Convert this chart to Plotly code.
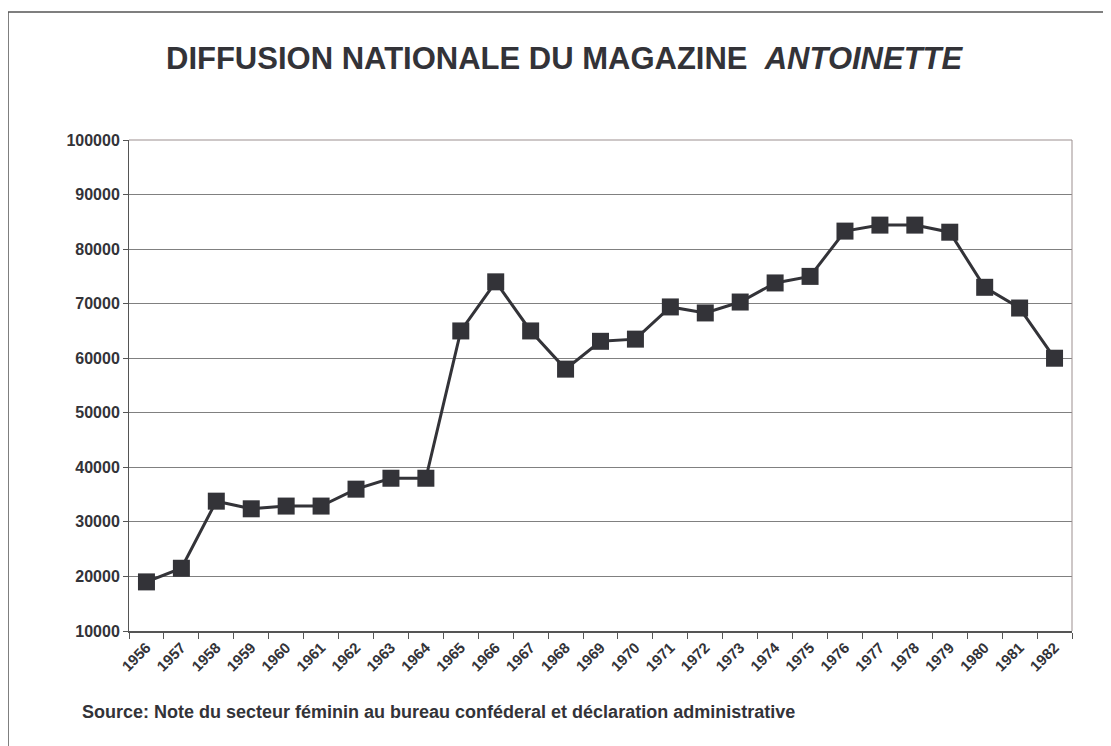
import plotly.graph_objects as go

years = [str(y) for y in range(1956, 1983)]
diffusion = [19000, 21500, 33800, 32400, 32900, 32900, 36000, 38000, 38000,
             65000, 74000, 65000, 58000, 63100, 63500, 69400, 68300, 70300,
             73800, 75000, 83300, 84400, 84400, 83100, 73000, 69200, 60000]
y_ticks = list(range(10000, 100001, 10000))
y_tick_labels = [str(v) for v in y_ticks]

title_text = "<b>DIFFUSION NATIONALE DU MAGAZINE&nbsp;&nbsp;<i>ANTOINETTE</i></b>"
source_text = "<b>Source: Note du secteur féminin au bureau conféderal et déclaration administrative</b>"

DARK = "#333338"
FONT = "Liberation Sans, Arial, sans-serif"

fig = go.Figure()
fig.add_trace(go.Scatter(
    x=years, y=diffusion, mode="lines+markers",
    line=dict(color=DARK, width=3),
    marker=dict(symbol="square", size=17, color=DARK),
    showlegend=False, hoverinfo="x+y",
))

# page body has an 8px margin: work in reference pixels, shifted by 8
OFF = 8
W, H = 1111 - OFF, 746 - OFF
PL, PT, PR, PB = 129 - OFF, 140 - OFF, 1072 - OFF, 631 - OFF
L, T, R, B = PL, PT, W - PR, H - PB
pw = PR - PL
ph = PB - PT

def px_x(x):
    return (x - OFF - PL) / pw

def px_y(y):
    return (PB - (y - OFF)) / ph

fig.update_layout(
    width=W, height=H,
    margin=dict(l=L, r=R, t=T, b=B),
    paper_bgcolor="white", plot_bgcolor="white",
    font=dict(family=FONT, color=DARK),
    xaxis=dict(
        type="category", tickson="boundaries", ticks="outside", ticklen=6,
        tickcolor="#555555", tickwidth=1,
        showline=True, linecolor="#555555", linewidth=2,
        showgrid=False, tickangle=-45,
        tickfont=dict(family=FONT, size=15, color=DARK, weight="bold"),
        range=[-0.5, len(years) - 0.5],
    ),
    yaxis=dict(
        range=[10000, 100000], tickvals=y_ticks, ticktext=y_tick_labels,
        ticks="outside", ticklen=5, tickcolor="#555555",
        showline=True, linecolor="#555555", linewidth=1,
        showgrid=True, gridcolor="#808080", gridwidth=1,
        zeroline=False,
        tickfont=dict(family=FONT, size=16, color=DARK, weight="bold"),
    ),
    shapes=[
        dict(type="line", xref="paper", yref="paper", x0=0, x1=1, y0=1, y1=1,
             line=dict(color="#9c8f8f", width=1)),
        dict(type="line", xref="paper", yref="paper", x0=1, x1=1, y0=0, y1=1,
             line=dict(color="#9c8f8f", width=1)),
        dict(type="rect", xref="paper", yref="paper",
             x0=px_x(8), x1=px_x(1140), y0=px_y(780), y1=px_y(12),
             line=dict(color="#555555", width=1.5)),
    ],
    annotations=[
        dict(text=title_text, xref="paper", yref="paper",
             x=px_x(565), y=px_y(58), xanchor="center", yanchor="middle",
             showarrow=False, font=dict(family=FONT, size=31, color=DARK)),
        dict(text=source_text, xref="paper", yref="paper",
             x=px_x(80), y=px_y(712), xanchor="left", yanchor="middle",
             showarrow=False, font=dict(family=FONT, size=18, color=DARK)),
    ],
)

fig.write_html("out.html")
